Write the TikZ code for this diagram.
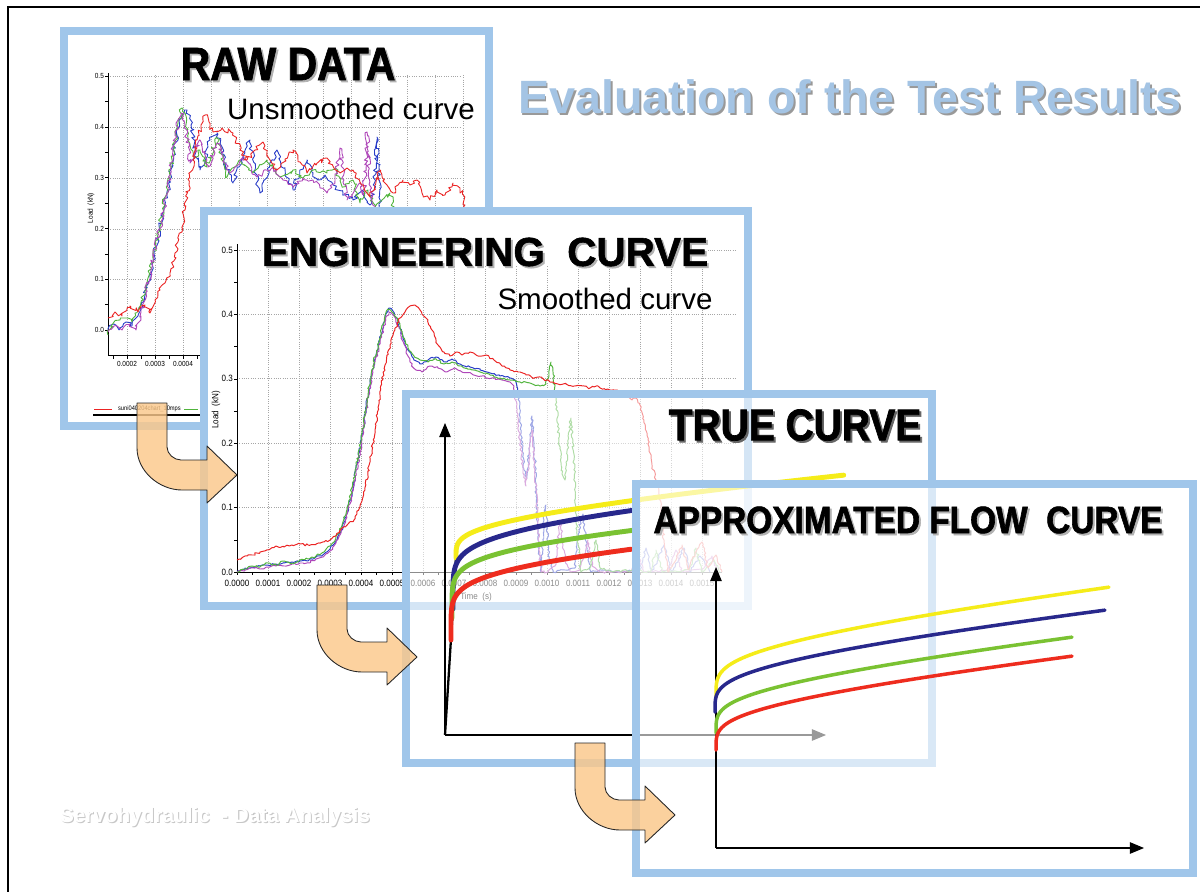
\documentclass[tikz,border=0pt]{standalone}
\usepackage{fontspec}
\setmainfont{Liberation Sans}
\newfontfamily\headfont[FakeStretch=0.88]{Liberation Sans}
\newfontfamily\heavyfont[FakeStretch=0.88, BoldFeatures={FakeBold=1.6}]{Liberation Sans}
\newfontfamily\heavywide[BoldFeatures={FakeBold=1.4}]{Liberation Sans}
\usetikzlibrary{arrows.meta,decorations.pathmorphing}

% text with a grey copy set behind it, down and to the right
\newcommand\shadowtext[3][black!30]{\makebox[0pt][l]{\hspace{#2}\raisebox{-#2}[0pt][0pt]{\color{#1}#3}}#3}

\definecolor{frameblue}{RGB}{160,198,234}
\definecolor{titleblue}{RGB}{164,196,228}
\definecolor{arrowtan}{RGB}{251,200,138}
\definecolor{flowred}{RGB}{238,44,30}
\definecolor{flowyellow}{RGB}{245,236,25}
\definecolor{flowblue}{RGB}{40,40,140}
\definecolor{flowgreen}{RGB}{122,194,50}
\definecolor{datared}{RGB}{235,35,35}
\definecolor{datagreen}{RGB}{80,180,60}
\definecolor{datablue}{RGB}{40,60,200}
\definecolor{datamag}{RGB}{175,70,185}

\tikzset{
  panelframe/.style={draw=frameblue, line width=4.5pt},
  chartgrid/.style={gray!70, densely dotted, line width=0.3pt},
  rawline/.style={line width=0.5pt, line join=round, decorate, decoration={random steps, segment length=1.5pt, amplitude=1.3pt}},
  engline/.style={line width=0.55pt, line join=round, decorate, decoration={random steps, segment length=1.3pt, amplitude=0.65pt}},
  ticklabel/.style={font=\headfont\fontsize{5.2}{6}\selectfont, inner sep=1pt},
  rawtick/.style={font=\headfont\fontsize{4.2}{5}\selectfont, inner sep=1pt},
  bigtitle/.style={font=\heavyfont\bfseries\fontsize{#1}{#1}\selectfont, inner sep=0pt},
  subtitle/.style={font=\fontsize{16.8}{17}\selectfont, inner sep=0pt},
  flowcurve/.style={line width=2.8pt, line cap=round},
  approxcurve/.style={line width=2pt, line cap=round},
  axisarrow/.style={-{Triangle[length=8pt, width=6.5pt]}, line width=0.6pt},
  flowarrow/.style={fill=arrowtan, fill opacity=0.82, draw=black!85, line width=0.5pt, line join=round},
}

\begin{document}
\begin{tikzpicture}[x=0.02cm, y=-0.02cm]
\useasboundingbox (0,0) rectangle (1200,892);
\pgfmathsetseed{12}
% page frame and heading
\draw[line width=1.6pt] (8,892) -- (8,7) -- (1200,7);
\node[font=\bfseries\fontsize{26.6}{27}\selectfont, text=titleblue, inner sep=0pt] (heading) at (850,97) {\shadowtext[black!40]{1.1pt}{Evaluation of the Test Results}};

% ---- raw data panel
\fill[white] (64,31) rectangle (489,426);
\foreach \gy in {76,127,178,229,279}
  \draw[chartgrid] (108,\gy) -- (462,\gy);
\foreach \k in {0,...,12}
  \draw[chartgrid] ({127+28*\k},75) -- ({127+28*\k},355);
\draw[line width=0.4pt] (108,73) -- (108,355) -- (200,355);
\foreach \k in {0,...,10}
  \draw[line width=0.3pt] (105,{76+25.4*\k}) -- (108,{76+25.4*\k});
\foreach \k in {-1,...,6}
  \draw[line width=0.3pt] ({127+14*\k},355) -- ({127+14*\k},359);
\foreach \lab/\gy [count=\i] in {0.5/76,0.4/127,0.3/178,0.2/229,0.1/279,0.0/330}
  \node[rawtick, anchor=east] (rawy\i) at (106,\gy) {\lab};
\foreach \lab/\gx [count=\i] in {0.0002/127,0.0003/155,0.0004/183}
  \node[rawtick] (rawx\i) at (\gx,364) {\lab};
\node[rawtick, rotate=90] (rawload) at (91,208) {Load\ \ (kN)};
\draw[datared, line width=0.5pt] (94,409) -- (112,409);
\node[rawtick, font=\headfont\fontsize{3.7}{4}\selectfont, anchor=west] (rawlegend) at (116,409) {suni040204chart\_10mps};
\draw[datagreen, line width=0.5pt] (184,409) -- (198,409);
\draw[line width=0.8pt] (93,415) -- (200,415);
\draw[rawline, datablue] plot coordinates {(108,330) (114,324) (120,328) (126,322) (132,326) (138,316) (143,302) (148,282) (153,260) (158,238) (163,213) (168,190) (172,165) (177,135) (182,115) (187,110) (191,125) (195,150) (200,170) (205,160) (210,140) (217,133) (224,160) (233,183) (241,160) (250,140) (255,170) (260,193) (268,170) (277,150) (285,175) (293,190) (300,170) (307,160) (312,172) (317,180) (325,175) (333,185) (343,193) (353,200) (362,190) (370,205) (374,190) (377,137) (380,200) (384,230)};
\draw[rawline, datagreen] plot coordinates {(108,335) (114,322) (120,320) (126,318) (132,322) (138,310) (143,296) (148,278) (153,256) (158,233) (163,208) (168,185) (172,160) (177,128) (182,108) (187,130) (193,160) (200,150) (207,167) (217,137) (227,177) (240,160) (253,173) (267,160) (280,177) (293,170) (303,178) (313,170) (327,173) (335,168) (343,187) (353,180) (360,203) (368,190) (375,210) (382,200) (390,193) (396,215)};
\draw[rawline, datamag] plot coordinates {(108,332) (114,326) (122,330) (130,324) (136,330) (141,312) (146,292) (151,270) (156,246) (161,222) (166,198) (170,175) (174,145) (178,120) (181,113) (185,125) (190,163) (200,140) (208,167) (217,143) (230,173) (243,157) (257,177) (273,167) (283,180) (293,187) (303,178) (313,180) (320,188) (327,193) (335,180) (340,148) (344,180) (347,200) (355,190) (360,183) (364,195) (367,132) (370,190) (372,203) (380,215)};
\draw[rawline, datared] plot coordinates {(108,318) (115,312) (122,316) (130,306) (138,312) (145,305) (150,313) (155,300) (160,290) (165,283) (170,273) (175,253) (180,233) (185,210) (189,185) (193,160) (197,140) (201,125) (205,115) (209,122) (213,132) (222,128) (233,133) (240,150) (247,160) (255,150) (263,142) (270,160) (277,170) (285,160) (293,150) (300,162) (307,173) (316,165) (327,158) (334,168) (340,173) (347,168) (353,170) (362,185) (370,197) (375,185) (380,170) (387,185) (393,193) (398,185) (403,180) (410,185) (417,180) (422,193) (430,200) (437,190) (445,195) (453,183) (460,188) (465,205) (470,225)};
\draw[panelframe] (64,31) rectangle (489,426);
\node[bigtitle=26.5, fill=white] (rawtitle) at (288,64) {\shadowtext{1.1pt}{RAW DATA}};
\node[subtitle] (rawsub) at (351,109) {Unsmoothed curve};

% ---- engineering curve panel
\fill[white] (204,211) rectangle (748,606);
\foreach \gy in {250,314,378,443,507}
  \draw[chartgrid] (237,\gy) -- (735,\gy);
\foreach \k in {1,...,15}
  \draw[chartgrid] ({237+31*\k},248) -- ({237+31*\k},572);
\draw[line width=0.4pt] (237,244) -- (237,572) -- (722,572);
\foreach \k in {0,...,30}
  \draw[line width=0.3pt] ({237+15.5*\k},572) -- ({237+15.5*\k},575);
\foreach \k in {0,...,10}
  \draw[line width=0.3pt] (234,{250+32.2*\k}) -- (237,{250+32.2*\k});
\foreach \k in {0,...,15}
  \node[ticklabel] (engx\k) at ({237+31*\k},583) {\ifnum\k<10 0.000\k\else 0.00\k\fi};
\foreach \lab/\gy [count=\i] in {0.5/250,0.4/314,0.3/378,0.2/443,0.1/507,0.0/572}
  \node[ticklabel, anchor=east] (engy\i) at (235,\gy) {\lab};
\node[ticklabel] (engtime) at (476,597) {Time\ \ (s)};
\node[ticklabel, rotate=90] (engload) at (216,410) {Load\ \ (kN)};
\draw[engline, datablue] plot coordinates {(237,571) (245,568) (252,567) (260,566) (268,565) (276,564) (284,563) (292,562) (300,561) (308,561) (316,557) (324,554) (330,549) (336,541) (341,531) (346,517) (351,497) (356,471) (361,444) (366,410) (370,383) (375,359) (380,340) (385,318) (389,308) (393,311) (398,321) (402,334) (408,350) (414,360) (420,364) (428,360) (436,357) (444,362) (452,359) (460,364) (470,367) (480,370) (490,373) (500,376) (510,378) (515,380) (518,392) (521,430) (524,470) (527,478) (530,440) (532,416) (535,460) (538,540) (541,572) (544,520) (546,505) (549,560) (553,572) (565,570) (575,568) (579,530) (583,514) (587,550) (591,572) (605,570) (620,572) (640,570) (646,548) (652,572) (664,545) (672,572) (684,548) (690,572) (700,556) (710,572)};
\draw[engline, datamag] plot coordinates {(237,572) (245,570) (252,568) (260,569) (268,567) (276,566) (284,566) (292,564) (300,563) (308,563) (316,559) (324,556) (330,551) (336,543) (341,533) (346,519) (351,499) (356,473) (361,446) (366,413) (370,386) (375,362) (380,344) (385,322) (389,312) (394,316) (399,328) (404,344) (410,362) (416,370) (422,372) (430,366) (438,368) (446,372) (454,368) (462,372) (472,374) (482,376) (492,378) (502,380) (510,382) (514,386) (517,410) (520,440) (523,470) (526,486) (529,460) (532,430) (535,470) (538,530) (541,572) (548,572) (555,566) (560,520) (565,560) (570,572) (580,570) (588,540) (592,566) (600,572) (630,572) (638,556) (644,572) (668,570) (676,550) (682,572) (704,568) (712,556) (718,572)};
\draw[engline, datagreen] plot coordinates {(237,572) (245,569) (252,566) (260,567) (268,563) (276,565) (284,561) (292,563) (300,560) (308,559) (316,556) (324,552) (330,546) (336,538) (341,528) (346,514) (351,494) (356,468) (361,441) (366,408) (370,381) (375,357) (380,338) (385,316) (388,309) (392,312) (397,318) (402,332) (408,348) (414,356) (420,360) (428,362) (436,359) (444,364) (452,362) (460,366) (470,369) (480,372) (490,375) (500,378) (510,380) (520,382) (530,383) (540,386) (546,384) (549,374) (551,362) (553,372) (556,400) (559,440) (562,474) (565,480) (568,440) (571,418) (574,460) (577,530) (581,572) (590,568) (596,540) (600,568) (612,572) (632,570) (650,572) (656,550) (662,572) (690,570) (696,548) (702,572) (714,560) (720,572)};
\draw[engline, datared] plot coordinates {(237,560) (245,556) (252,555) (260,552) (268,550) (276,546) (284,547) (292,545) (300,544) (308,545) (316,544) (324,542) (330,540) (336,536) (342,528) (348,524) (354,520) (360,506) (365,490) (370,462) (375,430) (380,395) (385,365) (390,345) (395,330) (400,318) (405,312) (410,306) (415,305) (420,310) (426,318) (432,330) (438,345) (444,352) (450,356) (456,352) (462,355) (470,352) (478,356) (486,355) (494,360) (502,366) (510,370) (518,372) (526,375) (534,378) (542,378) (550,382) (558,384) (566,384) (574,386) (582,386) (590,388) (598,386) (606,390) (614,390) (622,392) (628,396) (632,400) (636,398) (640,405) (644,420) (648,440) (652,465) (656,480) (660,500) (664,540) (668,572) (676,560) (682,545) (688,570) (696,552) (702,542) (708,568) (716,555) (722,572)};
\draw[panelframe] (204,211) rectangle (748,606);
\node[font=\heavywide\bfseries\fontsize{23}{23}\selectfont, inner sep=0pt, fill=white] (engtitle) at (485,252) {\shadowtext{1.1pt}{ENGINEERING\ \ CURVE}};
\node[subtitle] (engsub) at (605,299) {Smoothed curve};

% ---- true curve panel
\fill[white, opacity=0.55] (406,394) rectangle (932,763);
\draw[panelframe] (406,394) rectangle (932,763);
\draw[axisarrow] (445,735) -- (445,423);
\draw[axisarrow] (445,735) -- (826,735);
\draw[line width=1.3pt] (445,735) -- (456,558);
\draw[flowcurve, flowyellow] plot[domain=0:1, samples=70, variable=\s] ({456+389*\s^4}, {558-83*(0.65*\s+0.35*\s^4)});
\foreach \col/\xs/\ys/\amp in {flowblue/453/609/124, flowgreen/452/618/110, flowred/451/640/114}
  \draw[flowcurve, \col] plot[domain=0.001:0.88, samples=60, variable=\s] ({\xs+389*\s^6}, {\ys-\amp*(0.8*\s+0.2*\s^6)});
\node[bigtitle=25.2] (truetitle) at (795,425) {\shadowtext[black!60]{1.1pt}{TRUE CURVE}};

% ---- approximated flow curve panel
\fill[white, opacity=0.6] (636,484) rectangle (1193,873);
\draw[panelframe] (636,484) rectangle (1193,873);
\draw[axisarrow] (716,848) -- (716,567);
\draw[axisarrow] (716,848) -- (1144,848);
\foreach \col/\xs/\ys/\len/\amp in {flowyellow/716/697/394/110, flowblue/715/712/391/102, flowgreen/716/733/357/96, flowred/716/750/357/94}
  \draw[approxcurve, \col] plot[domain=0:1, samples=60, variable=\s] ({\xs+\len*\s^4}, {\ys-\amp*(0.65*\s+0.35*\s^4)});
\node[bigtitle=21.6] (flowtitle) at (908,520) {\shadowtext{1.1pt}{APPROXIMATED FLOW\ \ CURVE}};

% ---- bent arrows between the panels
\foreach \ax/\ay in {137/403, 317/585, 575/743}
  \draw[flowarrow, shift={(\ax,\ay)}] (0,0) -- (30,0) -- (30,44) .. controls (30,51) and (37,57) .. (44,57) -- (70,57) -- (70,43) -- (100,72) -- (70,100) -- (70,87) -- (45,87) .. controls (22,87) and (0,68) .. (0,45) -- cycle;

% footer
\node[font=\bfseries\fontsize{11.8}{12}\selectfont, text=white, inner sep=0pt] (footer) at (215,817) {\shadowtext[black!22]{0.6pt}{Servohydraulic\ \ - Data Analysis}};
\end{tikzpicture}
\end{document}
